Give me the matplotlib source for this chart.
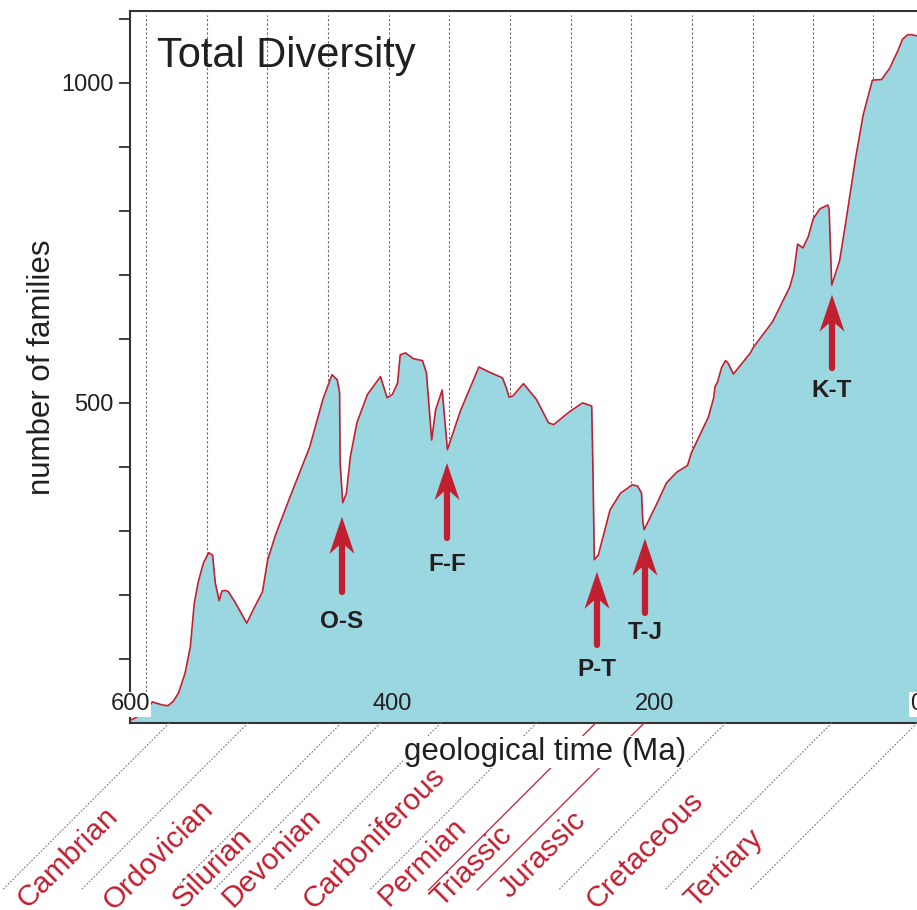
import matplotlib.pyplot as plt
from matplotlib.lines import Line2D
from matplotlib.patches import Polygon

plt.rcParams['font.family'] = ['Liberation Sans', 'DejaVu Sans']

# total diversity curve (Ma, number of families)
age_ma = [600, 599, 595, 591, 586, 583, 580, 575, 571, 567, 563, 558, 554, 551, 548, 544,
          540, 537, 535, 532, 530, 527, 525, 520, 511, 506, 499, 495, 489, 478, 463, 453,
          446, 442, 440.2, 439.8, 437.8, 435, 432, 427, 419, 409, 404, 400, 396, 394, 390,
          384, 377, 374, 370, 367, 362, 358, 348, 334, 326, 316, 313, 311, 308, 300, 290,
          281, 277, 265, 255, 248, 247, 246, 243, 234, 226, 217, 213, 210, 209, 208, 198,
          191, 183, 175, 172, 159, 155, 154, 152, 149, 146, 144, 140, 127, 125, 110, 97,
          94, 91, 87, 83, 79, 74, 68, 67, 65, 59, 54, 47, 41, 34, 27, 21, 15, 11, 7, 4, 0]
families = [3, 5, 9, 14, 24, 33, 31, 28, 27, 34, 47, 78, 119, 187, 220, 250,
            266, 262, 219, 191, 206, 207, 205, 189, 156, 177, 205, 255, 294, 353, 431, 505,
            544, 536, 516, 406, 344, 359, 416, 469, 513, 541, 508, 513, 531, 575, 578,
            569, 566, 547, 442, 489, 520, 427, 488, 556, 548, 539, 523, 509, 511, 530, 505,
            469, 466, 486, 500, 495, 390, 255, 262, 333, 359, 372, 370, 359, 314, 302, 344,
            375, 392, 402, 422, 478, 508, 525, 533, 555, 566, 562, 545, 578, 586, 627, 681,
            703, 748, 742, 759, 788, 803, 809, 802, 684, 722, 786, 880, 950, 1004, 1005, 1022, 1048, 1068, 1075, 1075, 1073]

grid_ages = [587.8, 541.3, 495.6, 449.0, 402.5, 356.8, 310.3, 263.8, 218.1, 171.5, 125.0, 79.3, 33.5]

period_starts = [570, 510, 439, 409, 363, 290, 245, 208, 146, 65, 0]
periods = ['Cambrian', 'Ordovician', 'Silurian', 'Devonian', 'Carboniferous', 'Permian',
           'Triassic', 'Jurassic', 'Cretaceous', 'Tertiary']

events = ['O-S', 'F-F', 'P-T', 'T-J', 'K-T']
event_ages = [438.4, 358.3, 244, 207.4, 64.8]
event_tips = [322, 406, 236, 288, 669]
event_tails = [205, 289, 122, 172, 555]
event_label_y = [158, 247, 83, 141, 520]

W, H = 917, 910
red = '#C21F30'
dark = '#231F20'


def fp(x, y):
    # pixel position (from top-left) -> figure fraction
    return x / W, 1 - y / H


fig = plt.figure(figsize=(W / 100, H / 100), dpi=100)
ax = fig.add_axes([130 / W, (H - 723) / H, (W - 130) / W, 712 / H])

ax.vlines(grid_ages, 0, 1105, colors='#666666', linestyles=(0, (2, 2)), lw=0.8, zorder=1)
ax.fill_between(age_ma, families, 0, color='#9AD7E0', lw=0, zorder=2)
ax.plot(age_ma, families, color=red, lw=1.2, zorder=3)

ax.set_xlim(600, 0)
ax.set_ylim(0, 1112)

ax.set_xticks(range(0, 601, 100))
ax.set_xticklabels([])
ax.tick_params(axis='x', direction='in', length=8, width=1.3, color='#333333')
ax.set_yticks(range(100, 1101, 100))
ax.set_yticklabels(['500' if v == 500 else '1000' if v == 1000 else '' for v in range(100, 1101, 100)])
ax.tick_params(axis='y', direction='out', length=8, width=1.3, color='#333333',
               labelsize=17, labelcolor=dark, pad=4)
for side in ['left', 'top', 'bottom']:
    ax.spines[side].set_color('#333333')
    ax.spines[side].set_linewidth(1.5)
ax.spines['right'].set_visible(False)

for v in [600, 400, 200, 0]:
    bb = dict(facecolor='white', edgecolor='none', pad=1) if v in (600, 0) else None
    ax.text(v, 29, str(v), ha='center', va='center', fontsize=17, color=dark, bbox=bb, zorder=5)

# extinction arrows: head sizes in pixels converted to data units
ma_per_px = 600 / 787
fam_per_px = 1112 / 712
for name, age, tip, tail, ly in zip(events, event_ages, event_tips, event_tails, event_label_y):
    base = tip - 37 * fam_per_px
    notch = tip - 26 * fam_per_px
    half = 12.5 * ma_per_px
    ax.plot([age, age], [tail, notch + 4], color=red, lw=4.5, solid_capstyle='round', zorder=6)
    ax.add_patch(Polygon([(age, tip), (age + half, base), (age, notch), (age - half, base)],
                         closed=True, facecolor=red, edgecolor='none', zorder=6))
    ax.text(age, ly, name, ha='center', va='center', fontsize=17.5, fontweight='bold',
            color=dark, zorder=6)

# period boundaries drawn below the axis
for age in period_starts:
    xb, yb = ax.transData.transform((age, 0))
    style = dict(color=red, lw=0.9, ls='-') if age in (245, 208) else \
        dict(color='#777777', lw=0.8, ls=(0, (1.5, 1.5)))
    fig.add_artist(Line2D([xb / W, (xb - 167) / W], [yb / H, (yb - 167) / H],
                          transform=fig.transFigure, zorder=2, **style))

label_pos = [(68, 858), (158, 855), (212, 868), (272, 858), (374, 838), (422, 862),
             (472, 866), (543, 855), (645, 850), (724, 868)]
for name, (x, y) in zip(periods, label_pos):
    fig.text(*fp(x, y), name, rotation=45, rotation_mode='anchor', ha='center', va='center',
             fontsize=21.5, color=red, zorder=3)

fig.text(*fp(545, 752), 'geological time (Ma)', ha='center', va='center', fontsize=22.5,
         color=dark, zorder=4, bbox=dict(facecolor='white', edgecolor='none', pad=1))
fig.text(*fp(42, 367), 'number of families', rotation=90, ha='center', va='center',
         fontsize=22.5, color=dark)
fig.text(*fp(157, 36), 'Total Diversity', ha='left', va='top', fontsize=30, color=dark)

fig.savefig('out.png', dpi=100)
